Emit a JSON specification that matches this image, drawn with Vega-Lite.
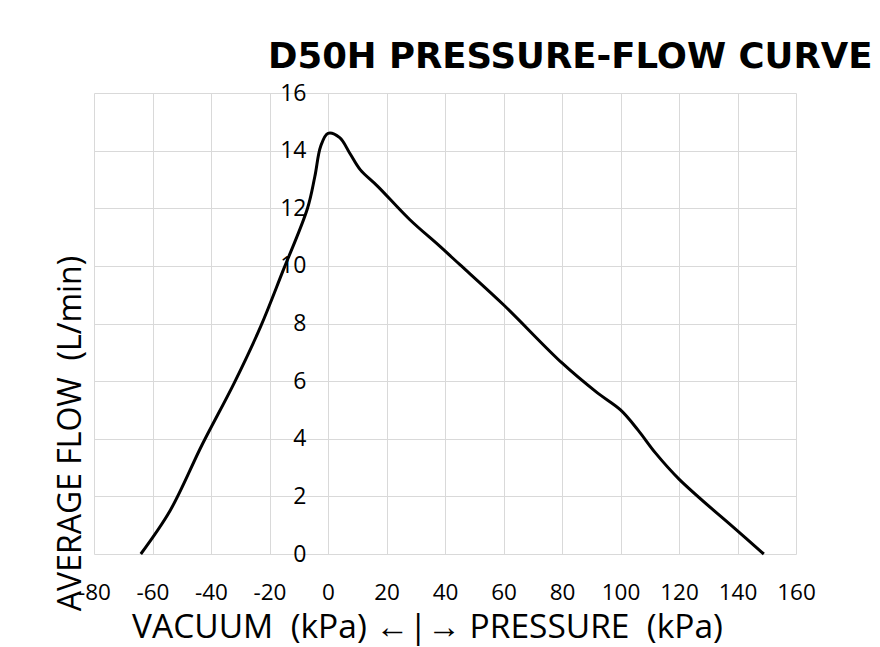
{
  "$schema": "https://vega.github.io/schema/vega-lite/v6.json",
  "width": 702,
  "height": 461,
  "autosize": "none",
  "padding": {"left": 94, "top": 93, "right": 84, "bottom": 93},
  "background": "white",
  "title": {
    "text": "D50H PRESSURE-FLOW CURVE",
    "anchor": "start",
    "frame": "group",
    "dx": 174,
    "offset": 7,
    "font": "DejaVu Sans",
    "fontWeight": "bold",
    "fontSize": 35.5,
    "color": "#000000"
  },
  "config": {
    "view": {"stroke": null},
    "axis": {
      "labelFont": "Open Sans",
      "titleFont": "Open Sans",
      "labelColor": "#000000",
      "titleColor": "#000000",
      "gridColor": "#d9d9d9",
      "gridWidth": 1,
      "gridOpacity": 1,
      "domain": false,
      "ticks": false,
      "labelOverlap": false,
      "labelFlush": false
    }
  },
  "data": {
    "values": [
      {"kPa": -64, "flow": 0},
      {"kPa": -54, "flow": 1.5},
      {"kPa": -43, "flow": 3.8},
      {"kPa": -32, "flow": 5.95},
      {"kPa": -23, "flow": 7.9},
      {"kPa": -15.5, "flow": 9.8},
      {"kPa": -7, "flow": 12},
      {"kPa": -4.5, "flow": 13.1},
      {"kPa": -2.5, "flow": 14.15},
      {"kPa": 0, "flow": 14.6},
      {"kPa": 4, "flow": 14.45},
      {"kPa": 7.5, "flow": 13.9},
      {"kPa": 11, "flow": 13.34},
      {"kPa": 17, "flow": 12.76},
      {"kPa": 28, "flow": 11.6},
      {"kPa": 38, "flow": 10.7},
      {"kPa": 45, "flow": 10.05},
      {"kPa": 60, "flow": 8.65},
      {"kPa": 80, "flow": 6.63},
      {"kPa": 92, "flow": 5.6},
      {"kPa": 100, "flow": 5.0},
      {"kPa": 106, "flow": 4.3},
      {"kPa": 112, "flow": 3.5},
      {"kPa": 120, "flow": 2.6},
      {"kPa": 140, "flow": 0.8},
      {"kPa": 149, "flow": 0}
    ]
  },
  "mark": {"type": "line", "color": "#000000", "strokeWidth": 3, "interpolate": "catmull-rom"},
  "encoding": {
    "x": {
      "field": "kPa",
      "type": "quantitative",
      "scale": {"domain": [-80, 160], "nice": false, "zero": false},
      "axis": {
        "values": [-80, -60, -40, -20, 0, 20, 40, 60, 80, 100, 120, 140, 160],
        "labelExpr": "'' + datum.value",
        "labelFontSize": 22.5,
        "labelPadding": 38,
        "labelBaseline": "middle",
        "title": "VACUUM\u00a0\u00a0(kPa)\u00a0\u2190|\u2192\u00a0PRESSURE\u00a0\u00a0(kPa)",
        "titleFontSize": 33.5,
        "titleFontWeight": "normal",
        "titleX": 333,
        "titleY": 83,
        "titleBaseline": "alphabetic",
        "titleAlign": "center"
      }
    },
    "y": {
      "field": "flow",
      "type": "quantitative",
      "scale": {"domain": [0, 16], "nice": false},
      "axis": {
        "values": [0, 2, 4, 6, 8, 10, 12, 14, 16],
        "offset": -234,
        "labelFontSize": 23,
        "labelPadding": 22,
        "title": "AVERAGE FLOW\u00a0\u00a0(L/min)",
        "titleFontSize": 32,
        "titleFontWeight": "normal",
        "titleAngle": -90,
        "titleX": -248,
        "titleY": 340,
        "titleBaseline": "alphabetic",
        "titleAlign": "center"
      }
    }
  }
}
